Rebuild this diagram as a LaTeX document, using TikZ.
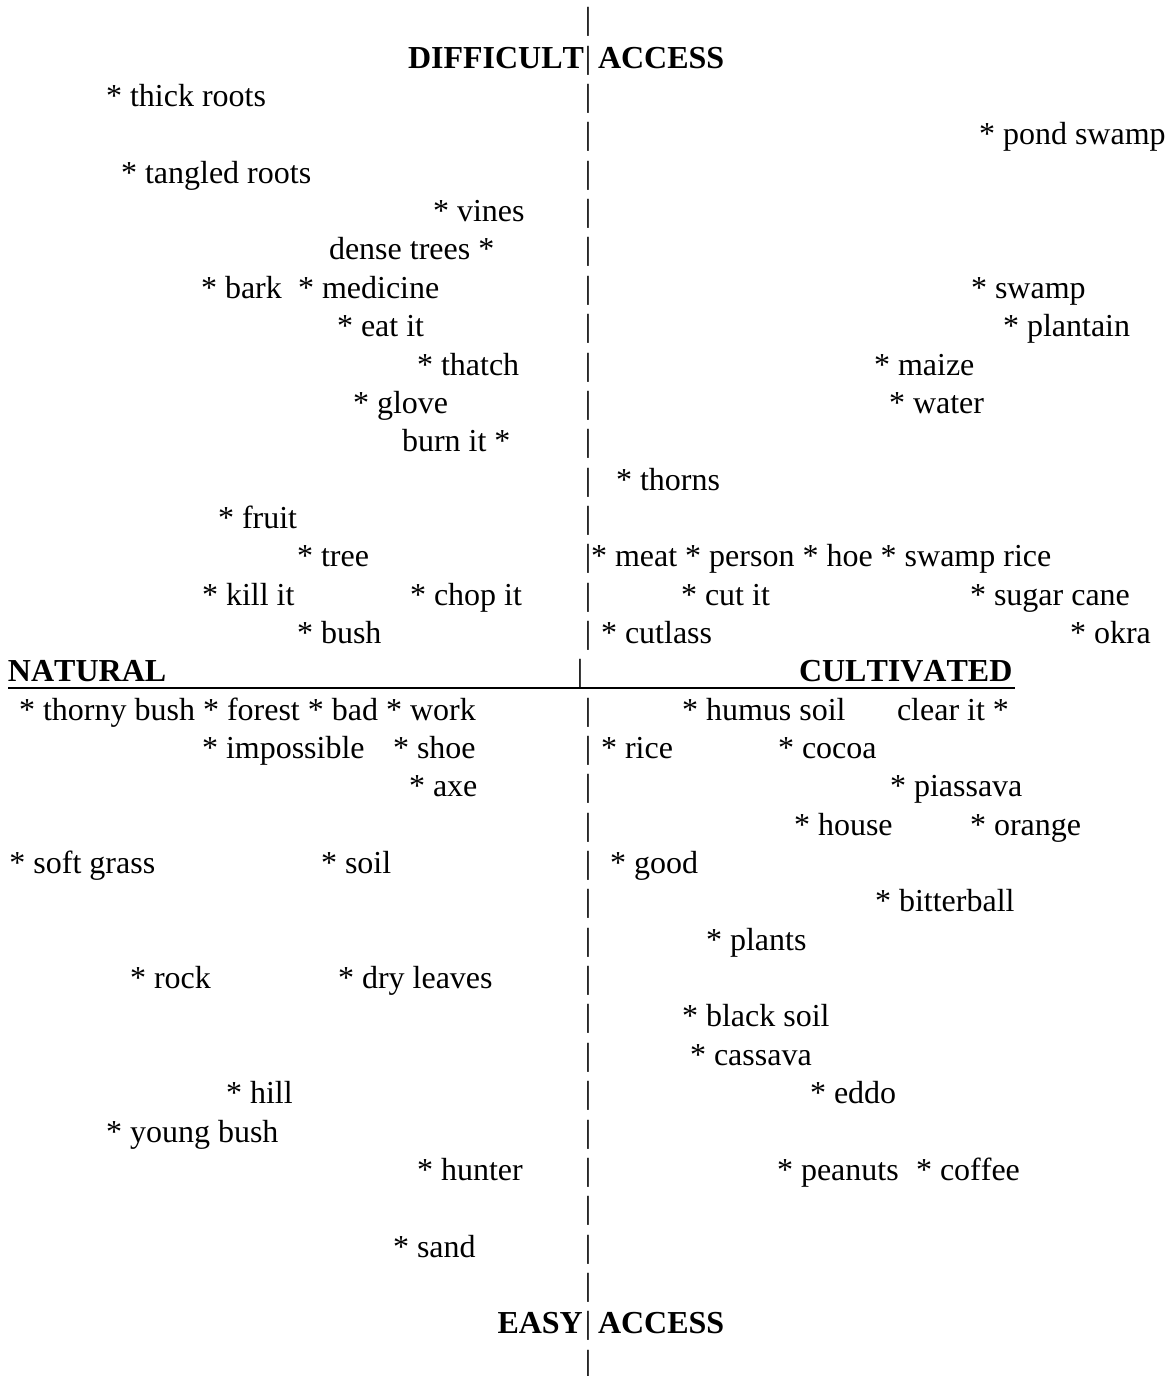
\documentclass[tikz,border=0pt]{standalone}
\usepackage{fontspec}
\setmainfont{Liberation Serif}[Kerning=Off,Ligatures={NoCommon}]
\begin{document}
\begin{tikzpicture}[x=0.5pt,y=-0.5pt,
  lbl/.style={anchor=base west,inner sep=0pt,outer sep=0pt,font=\fontsize{16}{19}\selectfont},
  hd/.style={anchor=base west,inner sep=0pt,outer sep=0pt,font=\fontsize{16}{19}\selectfont\bfseries},
  barsym/.style={anchor=base,inner sep=0pt,outer sep=0pt,font=\fontsize{16}{19}\selectfont},
  rule/.style={line width=1.4pt}]
\useasboundingbox (0,0) rectangle (1169,1376);
\coordinate (ulL) at (8,688);
\coordinate (ulR) at (1015,688);
\draw[rule] (ulL) -- (ulR);
\begin{scope}[yshift=-0.6pt]
% vertical bar column
\foreach \b [count=\i] in {28.65,105.35,143.7,182.05,220.4,258.75,297.1,335.45,373.8,412.15,450.5,488.85,527.2,565.55,603.9,642.25,718.95,757.3,795.65,834.0,872.35,910.7,949.05,987.4,1025.75,1064.1,1102.45,1140.8,1179.15,1217.5,1255.85,1294.2,1370.9}
  \node[barsym] (bar\i) at (588,\b) {|};
\node[barsym] (barnat) at (580,680.6) {|};
% headings
\node[hd] (difficult) at (408,67) {DIFFICULT};
\node[barsym] (bartop) at (588,67) {|};
\node[hd] (accesstop) at (598,67) {ACCESS};
\node[hd] (easy) at (497.5,1332.55) {EASY};
\node[barsym] (barbot) at (588,1332.55) {|};
\node[hd] (accessbot) at (598,1332.55) {ACCESS};
\node[hd] (natural) at (8,680.6) {NATURAL};
\node[hd] (cultivated) at (799,680.6) {CULTIVATED};
% upper left
\node[lbl] (thickroots) at (106,105.35) {* thick roots};
\node[lbl] (tangledroots) at (121,182.05) {* tangled roots};
\node[lbl] (vines) at (433,220.4) {* vines};
\node[lbl] (densetrees) at (329,258.75) {dense trees *};
\node[lbl] (bark) at (201,297.1) {* bark};
\node[lbl] (medicine) at (298,297.1) {* medicine};
\node[lbl] (eatit) at (337,335.45) {* eat it};
\node[lbl] (thatch) at (417,373.8) {* thatch};
\node[lbl] (glove) at (353,412.15) {* glove};
\node[lbl] (burnit) at (402,450.5) {burn it *};
\node[lbl] (fruit) at (218,527.2) {* fruit};
\node[lbl] (tree) at (297,565.55) {* tree};
\node[lbl] (killit) at (202,603.9) {* kill it};
\node[lbl] (chopit) at (410,603.9) {* chop it};
\node[lbl] (bush) at (297,642.25) {* bush};
% upper right
\node[lbl] (pondswamp) at (979,143.7) {* pond swamp};
\node[lbl] (swamp) at (971,297.1) {* swamp};
\node[lbl] (plantain) at (1003,335.45) {* plantain};
\node[lbl] (maize) at (874,373.8) {* maize};
\node[lbl] (water) at (889,412.15) {* water};
\node[lbl] (thorns) at (616,488.85) {* thorns};
\node[lbl] (meat) at (591,565.55) {* meat * person * hoe * swamp rice};
\node[lbl] (cutit) at (681,603.9) {* cut it};
\node[lbl] (sugarcane) at (970,603.9) {* sugar cane};
\node[lbl] (cutlass) at (601,642.25) {* cutlass};
\node[lbl] (okra) at (1070,642.25) {* okra};
% lower left
\node[lbl] (thornybush) at (19,718.95) {* thorny bush * forest * bad * work};
\node[lbl] (impossible) at (202,757.3) {* impossible};
\node[lbl] (shoe) at (393,757.3) {* shoe};
\node[lbl] (axe) at (409,795.65) {* axe};
\node[lbl] (softgrass) at (9.5,872.35) {* soft grass};
\node[lbl] (soil) at (321,872.35) {* soil};
\node[lbl] (rock) at (130,987.4) {* rock};
\node[lbl] (dryleaves) at (338,987.4) {* dry leaves};
\node[lbl] (hill) at (226,1102.45) {* hill};
\node[lbl] (youngbush) at (106,1140.8) {* young bush};
\node[lbl] (hunter) at (417,1179.15) {* hunter};
\node[lbl] (sand) at (393,1255.85) {* sand};
% lower right
\node[lbl] (humussoil) at (682,718.95) {* humus soil};
\node[lbl] (clearit) at (897,718.95) {clear it *};
\node[lbl] (rice) at (601,757.3) {* rice};
\node[lbl] (cocoa) at (778,757.3) {* cocoa};
\node[lbl] (piassava) at (890,795.65) {* piassava};
\node[lbl] (house) at (794,834.0) {* house};
\node[lbl] (orange) at (970,834.0) {* orange};
\node[lbl] (good) at (610,872.35) {* good};
\node[lbl] (bitterball) at (875,910.7) {* bitterball};
\node[lbl] (plants) at (706,949.05) {* plants};
\node[lbl] (blacksoil) at (682,1025.75) {* black soil};
\node[lbl] (cassava) at (690,1064.1) {* cassava};
\node[lbl] (eddo) at (810,1102.45) {* eddo};
\node[lbl] (peanuts) at (777,1179.15) {* peanuts};
\node[lbl] (coffee) at (916,1179.15) {* coffee};
\end{scope}
\end{tikzpicture}
\end{document}
